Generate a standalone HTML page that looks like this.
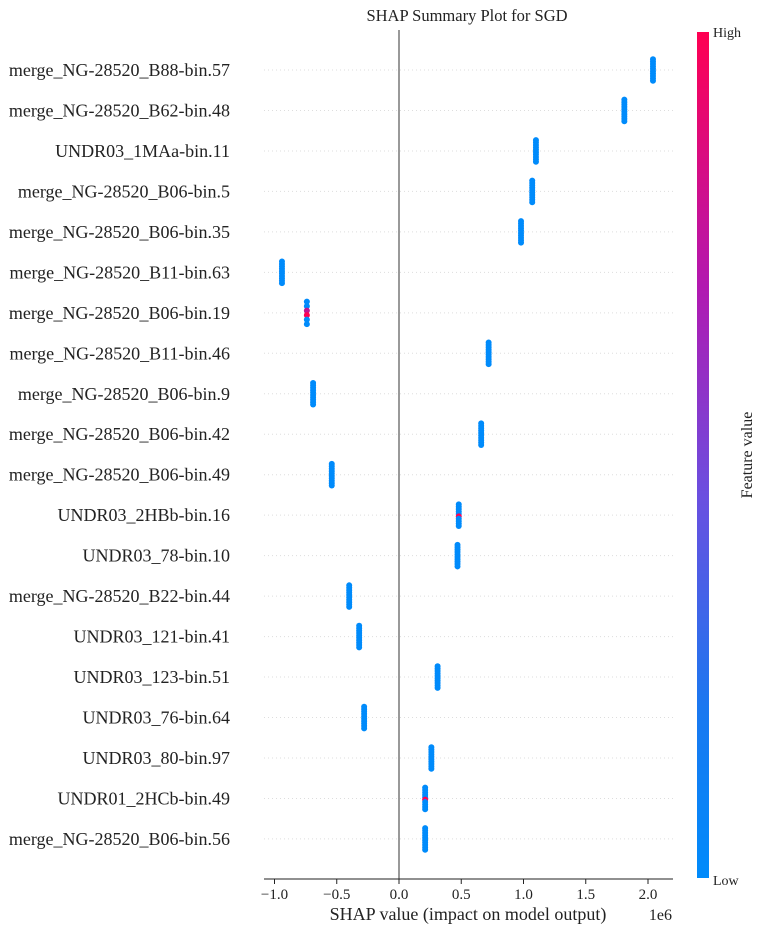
<!DOCTYPE html>
<html><head><meta charset="utf-8"><style>
body{margin:0;background:#fff;}
svg text{font-family:"Liberation Serif",serif;fill:#222;}
</style></head><body>
<svg id="chart" width="769" height="934" xmlns="http://www.w3.org/2000/svg">
<defs><linearGradient id="cg" x1="0" y1="1" x2="0" y2="0">
<stop offset="0" stop-color="#008bfb"/><stop offset="0.2" stop-color="#1a78f0"/><stop offset="0.45" stop-color="#6a4fe0"/><stop offset="0.7" stop-color="#b218b0"/><stop offset="1" stop-color="#ff0052"/></linearGradient></defs>
<text x="467" y="21" font-size="16.5" text-anchor="middle">SHAP Summary Plot for SGD</text>
<g id="grid"></g>
<line x1="399" y1="30" x2="399" y2="879" stroke="#999" stroke-width="2"/>
<g id="marks"></g>
<g id="labels"></g>
<line x1="264" y1="879" x2="673" y2="879" stroke="#222" stroke-width="1"/>
<g id="xticks"></g>
<text x="468" y="920" font-size="18" text-anchor="middle">SHAP value (impact on model output)</text>
<text x="672" y="920" font-size="16" text-anchor="end">1e6</text>
<rect x="697" y="32" width="12" height="846" fill="url(#cg)"/>
<text x="713" y="37" font-size="14">High</text>
<text x="713" y="885" font-size="14">Low</text>
<text x="752" y="455" font-size="16" text-anchor="middle" transform="rotate(-90 752 455)">Feature value</text>
</svg>
<script>
const features=["merge_NG-28520_B88-bin.57","merge_NG-28520_B62-bin.48","UNDR03_1MAa-bin.11","merge_NG-28520_B06-bin.5","merge_NG-28520_B06-bin.35","merge_NG-28520_B11-bin.63","merge_NG-28520_B06-bin.19","merge_NG-28520_B11-bin.46","merge_NG-28520_B06-bin.9","merge_NG-28520_B06-bin.42","merge_NG-28520_B06-bin.49","UNDR03_2HBb-bin.16","UNDR03_78-bin.10","merge_NG-28520_B22-bin.44","UNDR03_121-bin.41","UNDR03_123-bin.51","UNDR03_76-bin.64","UNDR03_80-bin.97","UNDR01_2HCb-bin.49","merge_NG-28520_B06-bin.56"];
const shapValues=[2.04,1.81,1.10,1.07,0.98,-0.94,-0.74,0.72,-0.69,0.66,-0.54,0.48,0.47,-0.40,-0.32,0.31,-0.28,0.26,0.21,0.21];
const pointCounts=[10,10,10,10,10,10,6,10,10,10,10,10,10,10,10,10,10,10,10,10];
const highIndex=[-1,-1,-1,-1,-1,-1,3,-1,-1,-1,-1,5,-1,-1,-1,-1,-1,-1,5,-1];
const xTicks=[-1.0,-0.5,0.0,0.5,1.0,1.5,2.0];
const xTickLabels=["\u22121.0","\u22120.5","0.0","0.5","1.0","1.5","2.0"];
const NS="http://www.w3.org/2000/svg";
const xs=v=>399+v*124.5;
const ys=i=>70+i*40.47;
const g=document.getElementById('grid'),m=document.getElementById('marks'),l=document.getElementById('labels'),xt=document.getElementById('xticks');
features.forEach((f,i)=>{
 const y=ys(i);
 const gl=document.createElementNS(NS,'line');
 
 
 gl.setAttribute('x1',264);gl.setAttribute('x2',673);gl.setAttribute('y1',y);gl.setAttribute('y2',y);
 gl.setAttribute('stroke','#ddd');gl.setAttribute('stroke-dasharray','1 3');g.appendChild(gl);
 const t=document.createElementNS(NS,'text');
 
 
 t.setAttribute('x',230);t.setAttribute('y',y+6);t.setAttribute('font-size','18');t.setAttribute('text-anchor','end');
 t.textContent=f;l.appendChild(t);
 const n=pointCounts[i];
 const step=i===6?4.5:2.4;
 for(let k=0;k<n;k++){
  const c=document.createElementNS(NS,'circle');
  
  
  c.setAttribute('cx',xs(shapValues[i]));c.setAttribute('cy',y+(k-(n-1)/2)*step);c.setAttribute('r',3);
  let col='#008bfb';
  if(k===highIndex[i])col='#ff0052';
  if(i===6&&k===2)col='#c0148f';
  c.setAttribute('fill',col);m.appendChild(c);
 }
});
xTicks.forEach((v,i)=>{
 const x=xs(v);
 const tk=document.createElementNS(NS,'line');
 
 
 tk.setAttribute('x1',x);tk.setAttribute('x2',x);tk.setAttribute('y1',879);tk.setAttribute('y2',884);tk.setAttribute('stroke','#222');xt.appendChild(tk);
 const t=document.createElementNS(NS,'text');
 
 
 t.setAttribute('x',x);t.setAttribute('y',899);t.setAttribute('font-size','15');t.setAttribute('text-anchor','middle');
 t.textContent=xTickLabels[i];xt.appendChild(t);
});
</script>
</body></html>
